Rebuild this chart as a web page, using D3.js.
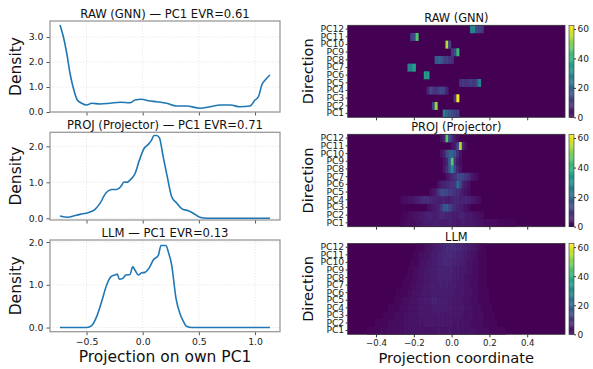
<!DOCTYPE html>
<html>
<head>
<meta charset="utf-8">
<script src="https://cdn.jsdelivr.net/npm/d3@7"></script>
<style>
  body { margin: 0; background: #fff; }
  svg { display: block; font-family: "DejaVu Sans", sans-serif; }
</style>
</head>
<body>
<div id="chart"></div>
<script>
// density curves, [x, density]
const rawDensity = [[-0.736,3.48],[-0.706,3.01],[-0.676,2.35],[-0.647,1.55],[-0.617,0.95],[-0.582,0.48],
  [-0.543,0.35],[-0.498,0.28],[-0.454,0.35],[-0.38,0.32],[-0.29,0.35],[-0.20,0.39],[-0.113,0.37],
  [-0.068,0.48],[-0.009,0.51],[0.05,0.45],[0.125,0.41],[0.214,0.35],[0.30,0.24],[0.39,0.24],[0.51,0.15],
  [0.60,0.21],[0.69,0.28],[0.78,0.28],[0.866,0.21],[0.955,0.24],[1.0,0.48],[1.03,0.61],[1.06,1.08],
  [1.09,1.28],[1.133,1.48]];
const projDensity = [[-0.736,0.064],[-0.662,0.028],[-0.617,0.064],[-0.558,0.11],[-0.484,0.155],[-0.424,0.25],
  [-0.38,0.415],[-0.326,0.71],[-0.276,0.80],[-0.231,0.80],[-0.196,0.875],[-0.166,1.01],[-0.142,1.0],
  [-0.107,1.08],[-0.068,1.245],[-0.03,1.61],[0.012,1.94],[0.05,2.055],[0.08,2.18],[0.10,2.30],[0.125,2.30],
  [0.148,2.24],[0.183,1.70],[0.219,1.15],[0.258,0.60],[0.30,0.43],[0.356,0.25],[0.406,0.21],[0.45,0.14],
  [0.51,0.028],[0.57,0.0],[1.133,0.0]];
const llmDensity = [[-0.736,0],[-0.498,0],[-0.454,0.046],[-0.409,0.26],[-0.365,0.61],[-0.32,1.0],[-0.282,1.19],
  [-0.246,1.23],[-0.226,1.25],[-0.208,1.13],[-0.178,1.15],[-0.149,1.23],[-0.113,1.24],[-0.089,1.42],
  [-0.068,1.34],[-0.039,1.23],[-0.009,1.28],[0.02,1.29],[0.059,1.40],[0.094,1.58],[0.139,1.69],[0.163,1.92],
  [0.183,1.92],[0.207,1.92],[0.228,1.77],[0.258,1.46],[0.296,0.69],[0.332,0.32],[0.361,0.15],[0.39,0.03],
  [0.436,0],[1.133,0]];

const densityTitles = ["RAW (GNN) — PC1 EVR=0.61", "PROJ (Projector) — PC1 EVR=0.71", "LLM — PC1 EVR=0.13"];
const heatTitles = ["RAW (GNN)", "PROJ (Projector)", "LLM"];
const directions = ["PC1","PC2","PC3","PC4","PC5","PC6","PC7","PC8","PC9","PC10","PC11","PC12"];

// histogram counts per direction (PC1 first): [first bin, counts...]
const binCount = 80;
const binRange = [-0.55, 0.6];
const rawRows = [
  [35, [28,20,18,14,12,12]],
  [31, [12,52]],
  [39, [10,62]],
  [29, [6,14,10,9,12,14,12,6]],
  [41, [8,10,9,10,11,9,14,28]],
  [28, [35,35]],
  [22, [28,30,36]],
  [32, [18,20,18,12,12,10,8]],
  [38, [10,14,42]],
  [36, [55,12]],
  [23, [12,14,45]],
  [45, [28,30,14,12,10]]
];
const projRows = [
  [19, [1,1,2,2,2,2,3,3,4,5,5,5,5,6,5,5,5,5,6,5,5,4,4,5,5,4,4,4,3,3,3,2,2,2,2,2,1,1,1,1,1,1,1]],
  [20, [1,1,2,2,3,3,4,4,5,6,6,5,5,6,7,7,6,6,5,5,5,6,6,5,4,4,3,3,2,2]],
  [29, [2,3,4,5,6,10,17,18,14,9,7,6,5,4,3,2]],
  [19, [1,2,2,3,3,4,5,6,7,8,8,7,6,6,5,5,6,5,5,6,7,7,6,6,7,6,5,4,3,2]],
  [30, [2,3,5,10,14,14,13,11,10,9,8,6,4,3,2]],
  [33, [3,5,6,7,8,9,10,22,14,6,4,3]],
  [36, [3,5,7,9,13,14,12,10,8,5,3,2]],
  [35, [4,8,18,30,14,6,3]],
  [35, [3,6,20,46,10,4,2]],
  [34, [3,6,14,20,20,16,8,3]],
  [38, [3,5,14,55,6,2]],
  [34, [3,6,46,16,8,4,2]]
];
const llmRows = [
  [7,  [1,1,1,1,1,2,1,2,2,2,2,2,2,2,3,3,3,3,3,3,3,3,3,3,3,3,4,3,3,3,4,3,3,4,3,3,3,3,3,3,2,2,2,2,2,1,1,1,1,1,1]],
  [10, [1,1,1,1,1,2,2,2,2,2,2,3,3,3,3,3,4,3,4,4,4,4,4,4,4,4,4,4,4,3,4,3,3,3,3,2,2,2,2,2,1,1,1,1,1]],
  [13, [1,1,1,1,2,2,2,2,3,3,3,3,3,4,4,4,4,4,4,4,5,4,4,4,4,4,4,4,4,3,3,3,3,2,2,2,2,1,1,1,1]],
  [15, [1,1,1,1,2,2,2,3,3,3,3,4,4,4,4,4,5,5,5,5,5,5,5,4,4,4,4,4,3,3,3,2,2,2,1,1,1,1]],
  [17, [1,1,1,2,2,2,3,3,3,4,4,5,5,5,6,6,5,5,5,5,5,4,4,4,4,3,3,3,2,2,2,1,1,1,1]],
  [18, [1,1,1,1,2,2,3,3,3,4,4,4,5,5,5,5,5,5,5,5,5,4,4,4,4,3,3,3,2,2,1,1,1,1]],
  [20, [1,1,1,2,2,3,3,3,4,4,5,5,5,5,6,5,6,5,5,5,4,4,4,3,3,2,2,2,1,1,1]],
  [21, [1,1,1,2,2,3,3,4,4,5,5,5,6,6,6,6,6,5,5,5,4,4,3,3,2,2,2,1,1,1]],
  [22, [1,1,2,2,3,3,4,4,5,5,5,6,6,6,6,6,6,5,5,4,4,4,3,3,2,2,1,1,1]],
  [23, [1,1,1,2,3,3,4,4,5,5,6,6,7,7,7,6,6,6,5,5,4,3,3,2,2,1,1,1]],
  [24, [1,1,2,2,3,3,4,5,5,6,6,7,7,8,7,7,6,6,5,5,4,3,3,2,1,1,1]],
  [25, [1,1,1,2,3,3,4,5,5,6,7,8,8,8,8,7,7,6,6,5,4,4,3,2,1,1]]
];

const densityYTicks = [[0,1,2,3],[0,1,2],[0,1,2]];
const densityXTicks = [-0.5, 0, 0.5, 1.0];
const heatXTicks = [-0.4, -0.2, 0, 0.2, 0.4];
const colorTicks = [0, 20, 40, 60];

const W = 593, H = 369;
const svg = d3.select('#chart').append('svg').attr('width', W).attr('height', H);

// ---------- left column: densities ----------
const leftBoxes = [
  {top: 21, bottom: 112, yDomain: [0, 3.64]},
  {top: 132.3, bottom: 220, yDomain: [-0.047, 2.39]},
  {top: 240, bottom: 331.7, yDomain: [-0.0975, 2.0475]}
];
const xLeft = d3.scaleLinear().domain([-0.825, 1.222]).range([50, 280]);
const densities = [rawDensity, projDensity, llmDensity];

leftBoxes.forEach((box, i) => {
  const y = d3.scaleLinear().domain(box.yDomain).range([box.bottom, box.top]);
  const g = svg.append('g');

  // grid
  g.selectAll('.gx').data(densityXTicks).enter().append('line')
    .attr('x1', d => xLeft(d)).attr('x2', d => xLeft(d))
    .attr('y1', box.top).attr('y2', box.bottom)
    .attr('stroke', '#e4e4e4').attr('stroke-width', 0.8).attr('stroke-dasharray', '1.5,1.5');
  g.selectAll('.gy').data(densityYTicks[i]).enter().append('line')
    .attr('x1', 50).attr('x2', 280)
    .attr('y1', d => y(d)).attr('y2', d => y(d))
    .attr('stroke', '#e4e4e4').attr('stroke-width', 0.8).attr('stroke-dasharray', '1.5,1.5');

  g.append('path').datum(densities[i])
    .attr('fill', 'none').attr('stroke', '#1f77b4').attr('stroke-width', 1.6)
    .attr('stroke-linejoin', 'round')
    .attr('d', d3.line().x(d => xLeft(d[0])).y(d => y(d[1])).curve(d3.curveMonotoneX));

  const yAx = g.append('g').attr('transform', 'translate(50,0)')
    .call(d3.axisLeft(y).tickValues(densityYTicks[i]).tickFormat(d3.format('.1f')).tickSize(3.5).tickPadding(3));
  const xAx = g.append('g').attr('transform', `translate(0,${box.bottom})`)
    .call(d3.axisBottom(xLeft).tickValues(densityXTicks).tickFormat(i == 2 ? d3.format('.1f') : '').tickSize(3.5).tickPadding(3));
  [yAx, xAx].forEach(a => {
    a.select('.domain').remove();
    a.selectAll('line').attr('stroke', '#555');
    a.selectAll('text').attr('fill', '#222').style('font-size', '9.3px').style('font-family', 'DejaVu Sans');
  });

  g.append('rect').attr('x', 50).attr('y', box.top).attr('width', 230).attr('height', box.bottom - box.top)
    .attr('fill', 'none').attr('stroke', '#9a9a9a').attr('stroke-width', 1.3);

  g.append('text').attr('x', 165).attr('y', box.top - 3).attr('text-anchor', 'middle')
    .style('font-size', '11.6px').attr('fill', '#111').text(densityTitles[i]);

  g.append('text').attr('transform', `translate(21,${(box.top + box.bottom) / 2}) rotate(-90)`)
    .attr('text-anchor', 'middle').style('font-size', '15.5px').attr('fill', '#111').text('Density');
});
svg.append('text').attr('x', 165).attr('y', 362).attr('text-anchor', 'middle')
  .style('font-size', '15.5px').attr('fill', '#111').text('Projection on own PC1');

// ---------- right column: heatmaps ----------
const rightBoxes = [
  {top: 25.3, bottom: 117.3},
  {top: 134.3, bottom: 226.7},
  {top: 243.5, bottom: 334.3}
];
const heatRows = [rawRows, projRows, llmRows];
const xRight = d3.scaleLinear().domain(binRange).range([347.7, 565]);
const binW = (binRange[1] - binRange[0]) / binCount;
const colorMax = d3.max(heatRows.flat(), r => d3.max(r[1])) + 0.5;
const color = d3.scaleSequential(d3.interpolateViridis).domain([0, colorMax]);

rightBoxes.forEach((box, i) => {
  const g = svg.append('g');
  const y = d3.scaleBand().domain(directions.slice().reverse()).range([box.top, box.bottom]);

  g.append('rect').attr('x', xRight(binRange[0])).attr('y', box.top)
    .attr('width', xRight(binRange[1]) - xRight(binRange[0])).attr('height', box.bottom - box.top)
    .attr('fill', color(0));

  const cells = [];
  heatRows[i].forEach((row, r) => {
    row[1].forEach((v, k) => cells.push({dir: directions[r], bin: row[0] + k, v: v}));
  });
  g.selectAll('.cell').data(cells).enter().append('rect')
    .attr('x', d => xRight(binRange[0] + d.bin * binW))
    .attr('y', d => y(d.dir))
    .attr('width', xRight(binRange[0] + binW) - xRight(binRange[0]) + 0.3)
    .attr('height', y.bandwidth() + 0.3)
    .attr('fill', d => color(d.v));

  const yAx = g.append('g').attr('transform', `translate(${xRight(binRange[0])},0)`)
    .call(d3.axisLeft(y).tickSize(2).tickPadding(1.5));
  const xAx = g.append('g').attr('transform', `translate(0,${box.bottom})`)
    .call(d3.axisBottom(xRight).tickValues(heatXTicks).tickFormat(i == 2 ? d3.format('.1f') : '').tickSize(3).tickPadding(2.5));
  [yAx, xAx].forEach(a => {
    a.select('.domain').remove();
    a.selectAll('line').attr('stroke', '#333');
    a.selectAll('text').attr('fill', '#222').style('font-family', 'DejaVu Sans');
  });
  yAx.selectAll('text').style('font-size', '9.2px');
  xAx.selectAll('text').style('font-size', '8.6px');

  g.append('rect').attr('x', 347.7).attr('y', box.top).attr('width', 565 - 347.7).attr('height', box.bottom - box.top)
    .attr('fill', 'none').attr('stroke', '#333').attr('stroke-width', 0.8);

  g.append('text').attr('x', (347.7 + 565) / 2).attr('y', box.top - 3).attr('text-anchor', 'middle')
    .style('font-size', '11.4px').attr('fill', '#111').text(heatTitles[i]);

  g.append('text').attr('transform', `translate(313,${(box.top + box.bottom) / 2}) rotate(-90)`)
    .attr('text-anchor', 'middle').style('font-size', '14.6px').attr('fill', '#111').text('Direction');

  // colorbar
  const cScale = d3.scaleLinear().domain([0, colorMax]).range([box.bottom, box.top]);
  const steps = d3.range(0, 100);
  g.selectAll('.cb').data(steps).enter().append('rect')
    .attr('x', 569).attr('width', 5)
    .attr('y', d => cScale((d + 1) * colorMax / 100))
    .attr('height', d => cScale(d * colorMax / 100) - cScale((d + 1) * colorMax / 100) + 0.3)
    .attr('fill', d => color((d + 0.5) * colorMax / 100));
  g.append('rect').attr('x', 569).attr('y', box.top).attr('width', 5).attr('height', box.bottom - box.top)
    .attr('fill', 'none').attr('stroke', '#333').attr('stroke-width', 0.6);
  const cAx = g.append('g').attr('transform', 'translate(574,0)')
    .call(d3.axisRight(cScale).tickValues(colorTicks).tickSize(2).tickPadding(1.5));
  cAx.select('.domain').remove();
  cAx.selectAll('line').attr('stroke', '#333');
  cAx.selectAll('text').attr('fill', '#222').style('font-size', '9px').style('font-family', 'DejaVu Sans');
});
svg.append('text').attr('x', (347.7 + 565) / 2).attr('y', 363).attr('text-anchor', 'middle')
  .style('font-size', '14.7px').attr('fill', '#111').text('Projection coordinate');
</script>
</body>
</html>
